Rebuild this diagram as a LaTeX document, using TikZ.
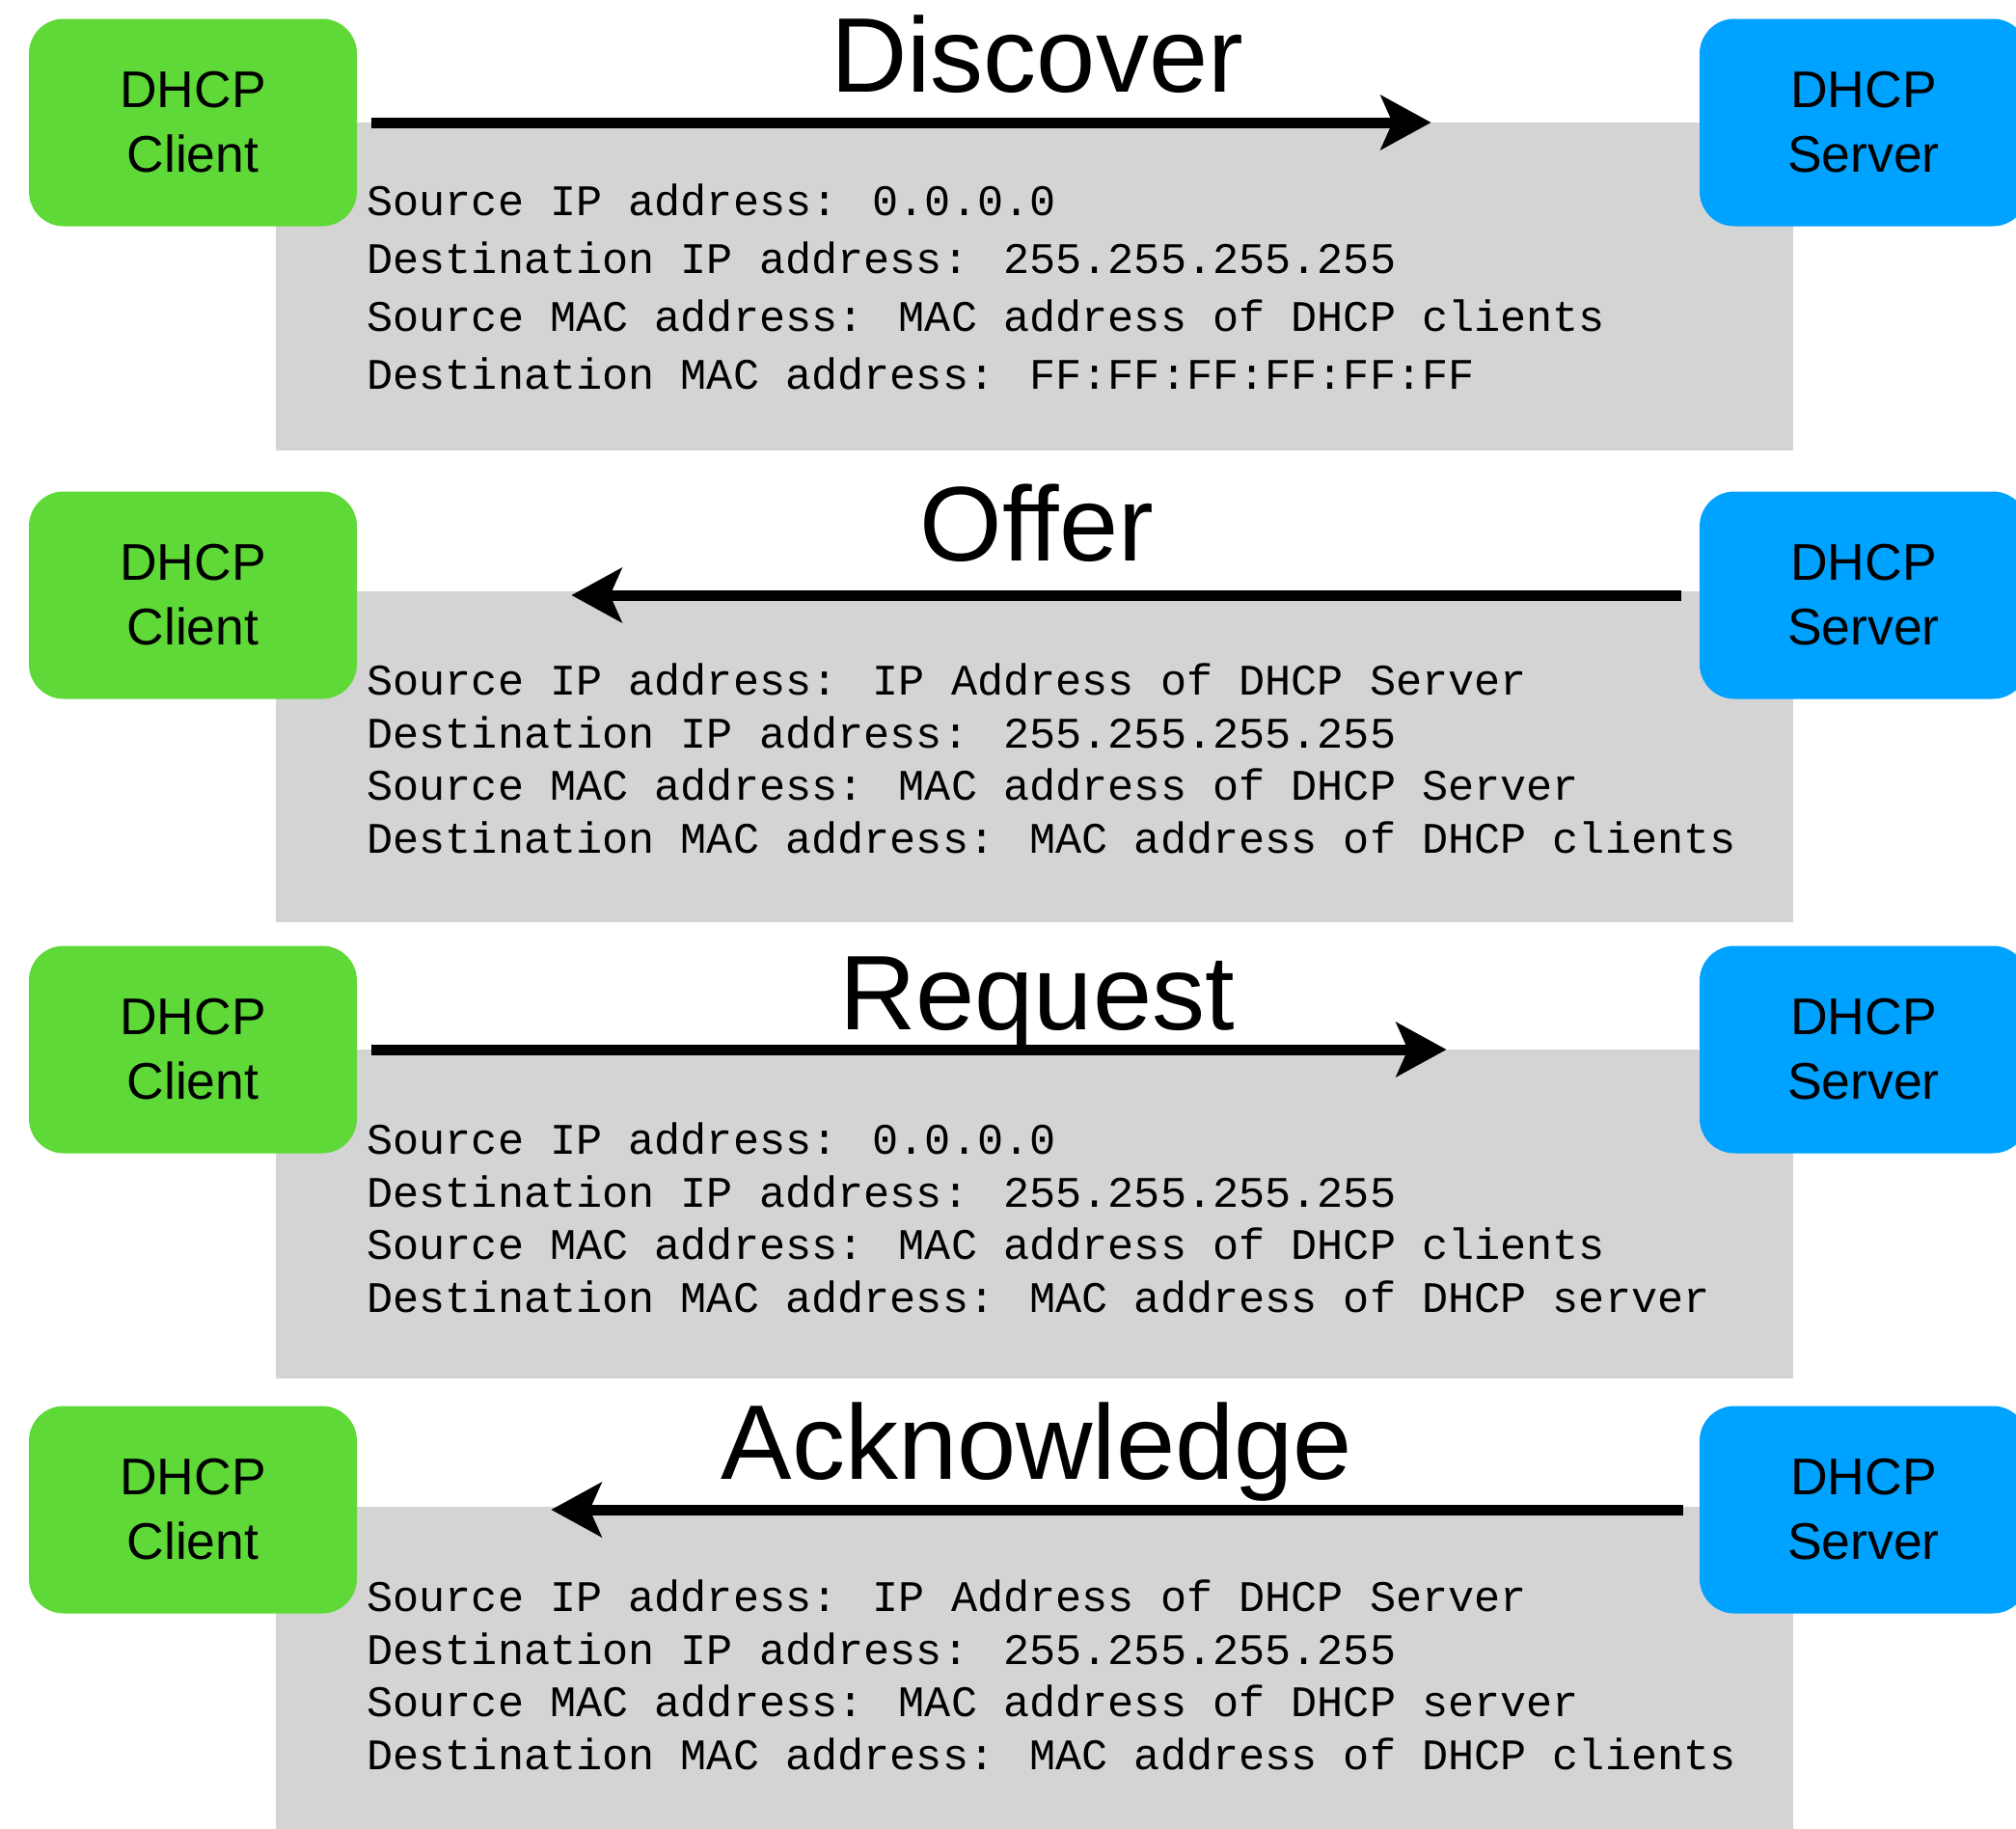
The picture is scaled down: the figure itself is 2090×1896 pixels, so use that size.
\documentclass[tikz,border=0pt]{standalone}
\usepackage{fontspec}
\setmainfont{Liberation Sans}
\newfontfamily\pktfont{Liberation Mono}
\usetikzlibrary{arrows.meta}
\definecolor{cligreen}{RGB}{95,217,56}
\definecolor{srvblue}{RGB}{0,162,255}
\definecolor{pktgray}{RGB}{212,212,212}
\begin{document}
\begin{tikzpicture}[x=0.5pt,y=-0.5pt,
  host/.style={rounded corners=18pt, minimum width=170pt, minimum height=107.5pt, align=center, inner sep=0pt, font=\fontsize{26.75}{33.5}\selectfont},
  msg/.style={line width=5.5pt, -{Stealth[length=26pt,width=28pt,inset=6pt]}},
  msgname/.style={anchor=base, inner sep=0pt, font=\fontsize{55}{60}\selectfont},
  fields/.style={anchor=base west, align=left, inner sep=0pt, font=\pktfont\fontsize{22.6}{27.25}\selectfont}]
\clip (0,0) rectangle (2090,1896);
% packet boxes
\fill[pktgray] (286,127) rectangle (1859,467);
\fill[pktgray] (286,613) rectangle (1859,956);
\fill[pktgray] (286,1088) rectangle (1859,1429);
\fill[pktgray] (286,1562) rectangle (1859,1900);

% discover
\node[host, fill=cligreen] (cli1) at (200,127) {DHCP\\Client};
\node[host, fill=srvblue] (srv1) at (1932,127) {DHCP\\Server};
\draw[msg, shorten <=7.5pt, shorten >=139pt] (cli1) -- (srv1);
\node[msgname] (discover) at (1075,95) {Discover};
\node[fields, font=\pktfont\fontsize{22.6}{30}\selectfont] (pkt1) at (380,403) {Source IP address: 0.0.0.0\\Destination IP address: 255.255.255.255\\Source MAC address: MAC address of DHCP clients\\Destination MAC address: FF:FF:FF:FF:FF:FF};

% offer
\node[host, fill=cligreen] (cli2) at (200,617) {DHCP\\Client};
\node[host, fill=srvblue] (srv2) at (1932,617) {DHCP\\Server};
\draw[msg, shorten <=9.5pt, shorten >=111pt] (srv2) -- (cli2);
\node[msgname] (offer) at (1075,581) {Offer};
\node[fields] (pkt2) at (380,884) {Source IP address: IP Address of DHCP Server\\Destination IP address: 255.255.255.255\\Source MAC address: MAC address of DHCP Server\\Destination MAC address: MAC address of DHCP clients};

% request
\node[host, fill=cligreen] (cli3) at (200,1088) {DHCP\\Client};
\node[host, fill=srvblue] (srv3) at (1932,1088) {DHCP\\Server};
\draw[msg, shorten <=7.5pt, shorten >=131pt] (cli3) -- (srv3);
\node[msgname] (request) at (1075,1067) {Request};
\node[fields] (pkt3) at (380,1360) {Source IP address: 0.0.0.0\\Destination IP address: 255.255.255.255\\Source MAC address: MAC address of DHCP clients\\Destination MAC address: MAC address of DHCP server};

% acknowledge
\node[host, fill=cligreen] (cli4) at (200,1565) {DHCP\\Client};
\node[host, fill=srvblue] (srv4) at (1932,1565) {DHCP\\Server};
\draw[msg, shorten <=8.5pt, shorten >=100.5pt] (srv4) -- (cli4);
\node[msgname] (ack) at (1075,1533) {Acknowledge};
\node[fields] (pkt4) at (380,1834) {Source IP address: IP Address of DHCP Server\\Destination IP address: 255.255.255.255\\Source MAC address: MAC address of DHCP server\\Destination MAC address: MAC address of DHCP clients};

\end{tikzpicture}
\end{document}
